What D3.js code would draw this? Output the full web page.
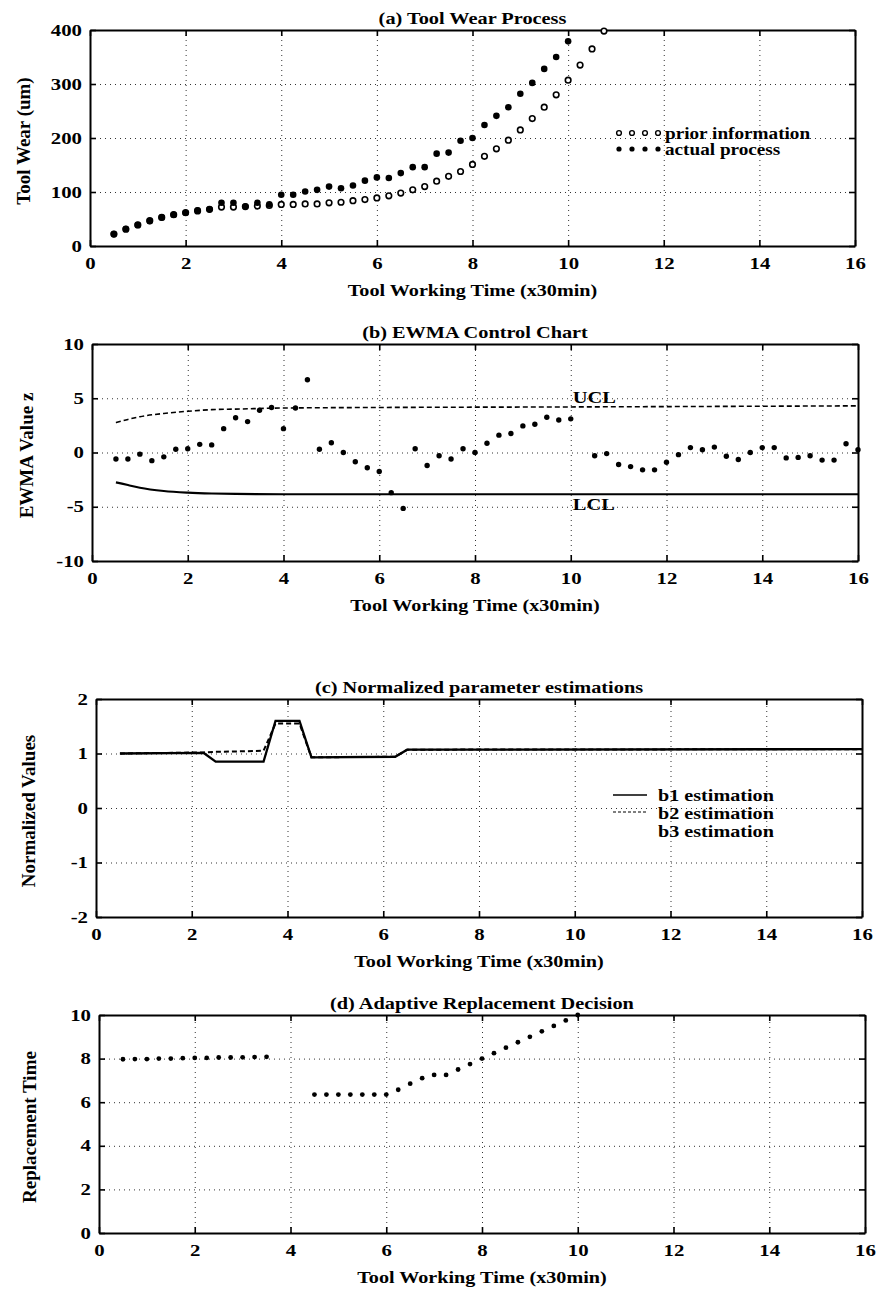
<!DOCTYPE html>
<html>
<head>
<meta charset="utf-8">
<script src="https://cdn.jsdelivr.net/npm/d3@7"></script>
<style>
  body { margin: 0; background: #fff; }
  svg text { font-family: "Liberation Serif", "Times New Roman", serif; font-weight: bold; fill: #000; }
  .tick text { font-size: 16px; }
  .grid line { stroke: #333; stroke-width: 1; stroke-dasharray: 1,4; }
  .grid .domain { display: none; }
  .ax .domain { stroke: #000; stroke-width: 2; }
  .ax .tick line { stroke: #000; stroke-width: 1.6; }
</style>
</head>
<body>
<svg id="fig" width="879" height="1293"></svg>
<script>
// (a) tool wear, um
const wearTime = [0.5, 0.75, 1, 1.25, 1.5, 1.75, 2, 2.25, 2.5, 2.75, 3, 3.25, 3.5, 3.75, 4, 4.25, 4.5, 4.75, 5, 5.25,
  5.5, 5.75, 6, 6.25, 6.5, 6.75, 7, 7.25, 7.5, 7.75, 8, 8.25, 8.5, 8.75, 9, 9.25, 9.5, 9.75, 10, 10.25, 10.5, 10.75];
const priorWear = [22, 31, 39, 47, 53, 58, 62, 65, 68, 72, 72, 73, 74, 75, 77, 77, 78, 78, 80, 81,
  84, 86, 89, 93, 98, 104, 110, 120, 129, 138, 151, 166, 180, 196, 215, 236, 257, 280, 307, 335, 365, 398];
const actualWear = [22, 32, 39, 46, 53, 58, 61, 66, 68, 80, 80, 73, 80, 77, 95, 95, 101, 104, 110, 107,
  112, 121, 127, 126, 135, 146, 146, 171, 173, 195, 200, 224, 241, 257, 282, 302, 328, 350, 379];

// (b) EWMA statistic and limits
const ewmaTime = [0.5, 0.75, 1, 1.25, 1.5, 1.75, 2, 2.25, 2.5, 2.75, 3, 3.25, 3.5, 3.75, 4, 4.25, 4.5, 4.75, 5, 5.25,
  5.5, 5.75, 6, 6.25, 6.5, 6.75, 7, 7.25, 7.5, 7.75, 8, 8.25, 8.5, 8.75, 9, 9.25, 9.5, 9.75, 10,
  10.5, 10.75, 11, 11.25, 11.5, 11.75, 12, 12.25, 12.5, 12.75, 13, 13.25, 13.5, 13.75, 14, 14.25, 14.5, 14.75,
  15, 15.25, 15.5, 15.75, 16];
const ewmaValue = [-0.6, -0.6, -0.15, -0.75, -0.4, 0.3, 0.35, 0.75, 0.7, 2.2, 3.2, 2.85, 3.9, 4.15, 2.2, 4.1, 6.7, 0.3, 0.9, 0.0,
  -0.85, -1.4, -1.75, -3.7, -5.15, 0.35, -1.2, -0.3, -0.6, 0.35, 0.0, 0.85, 1.6, 1.75, 2.45, 2.6, 3.25, 3.0, 3.1,
  -0.3, -0.1, -1.1, -1.3, -1.6, -1.6, -0.9, -0.2, 0.45, 0.25, 0.5, -0.35, -0.65, 0.0, 0.45, 0.45, -0.5, -0.45,
  -0.3, -0.7, -0.7, 0.8, 0.25];
const uclTime = [0.5, 0.75, 1, 1.5, 2, 2.5, 3, 4, 6, 10, 16];
const uclValue = [2.75, 3.05, 3.3, 3.6, 3.8, 3.95, 4.0, 4.1, 4.15, 4.2, 4.3];
const lclTime = [0.5, 0.75, 1, 1.5, 2, 2.5, 3, 4, 16];
const lclValue = [-2.75, -3.0, -3.25, -3.55, -3.7, -3.78, -3.82, -3.85, -3.85];

// (c) normalized parameter estimations
const paramTime = [0.5, 2.25, 2.5, 3.5, 3.75, 4.25, 4.5, 6.25, 6.5, 16];
const b1Value = [1.0, 1.01, 0.85, 0.85, 1.6, 1.6, 0.93, 0.94, 1.07, 1.08];
const b2Value = [1.0, 1.02, 1.03, 1.05, 1.55, 1.55, 0.93, 0.94, 1.07, 1.08];

// (d) replacement time decision
const replTime = [0.5, 0.75, 1, 1.25, 1.5, 1.75, 2, 2.25, 2.5, 2.75, 3, 3.25, 3.5,
  4.5, 4.75, 5, 5.25, 5.5, 5.75, 6, 6.25, 6.5, 6.75, 7, 7.25, 7.5, 7.75, 8, 8.25, 8.5, 8.75, 9, 9.25, 9.5, 9.75, 10];
const replValue = [7.97, 7.98, 7.98, 8.0, 8.0, 8.02, 8.03, 8.03, 8.05, 8.05, 8.06, 8.07, 8.08,
  6.35, 6.35, 6.35, 6.35, 6.35, 6.35, 6.35, 6.57, 6.85, 7.1, 7.25, 7.25, 7.5, 7.75, 8.0, 8.25, 8.5, 8.75, 9.0, 9.25, 9.5, 9.75, 10.0];

const xTicks = [0, 2, 4, 6, 8, 10, 12, 14, 16];
const xLabel = 'Tool Working Time (x30min)';

const svg = d3.select('#fig');
const plain = d => String(d);

// the scanned lettering is wider than Times, so stretch text horizontally
function widen(sel, k) {
  sel.each(function() {
    const t = d3.select(this);
    const x = +t.attr('x') || 0;
    t.attr('transform', `translate(${x},0) scale(${k},1) translate(${-x},0)`);
  });
}

function panel(box, yDomain, yTicks, title, yLabel) {
  const x = d3.scaleLinear().domain([0, 16]).range([box.left, box.right]);
  const y = d3.scaleLinear().domain(yDomain).range([box.bottom, box.top]);
  const w = box.right - box.left, h = box.bottom - box.top;
  const g = svg.append('g');

  g.append('g').attr('class', 'grid')
    .attr('transform', `translate(0,${box.bottom})`)
    .call(d3.axisBottom(x).tickValues(xTicks.slice(1, -1)).tickSize(-h).tickFormat(''));
  g.append('g').attr('class', 'grid')
    .attr('transform', `translate(${box.left},0)`)
    .call(d3.axisLeft(y).tickValues(yTicks.slice(1, -1)).tickSize(-w).tickFormat(''));

  const bottom = g.append('g').attr('class', 'ax')
    .attr('transform', `translate(0,${box.bottom})`)
    .call(d3.axisBottom(x).tickValues(xTicks).tickFormat(plain)
      .tickSizeInner(-6).tickSizeOuter(0).tickPadding(12));
  const left = g.append('g').attr('class', 'ax')
    .attr('transform', `translate(${box.left},0)`)
    .call(d3.axisLeft(y).tickValues(yTicks).tickFormat(plain)
      .tickSizeInner(-6).tickSizeOuter(0).tickPadding(8));
  g.append('g').attr('class', 'ax')
    .attr('transform', `translate(0,${box.top})`)
    .call(d3.axisTop(x).tickValues(xTicks).tickSizeInner(-6).tickSizeOuter(0).tickFormat(''));
  g.append('g').attr('class', 'ax')
    .attr('transform', `translate(${box.right},0)`)
    .call(d3.axisRight(y).tickValues(yTicks).tickSizeInner(-6).tickSizeOuter(0).tickFormat(''));
  g.selectAll('.ax').attr('font-family', null).attr('font-size', null);
  widen(bottom.selectAll('text'), 1.3);
  widen(left.selectAll('text'), 1.3);

  const cx = (box.left + box.right) / 2;
  g.append('text').attr('x', cx).attr('y', box.top - 6)
    .attr('text-anchor', 'middle').style('font-size', '16px').text(title)
    .call(widen, 1.27);
  g.append('text').attr('x', cx).attr('y', box.bottom + 50)
    .attr('text-anchor', 'middle').style('font-size', '16px').text(xLabel)
    .call(widen, 1.26);
  g.append('text')
    .attr('transform', `translate(${box.yLab},${(box.top + box.bottom) / 2 + 3}) rotate(-90)`)
    .attr('text-anchor', 'middle').style('font-size', '19px').text(yLabel);

  return { g, x, y };
}

// (a)
const pa = panel({ left: 90, right: 855, top: 30, bottom: 246, yLab: 30 },
  [0, 400], [0, 100, 200, 300, 400], '(a) Tool Wear Process', 'Tool Wear (um)');
pa.g.append('g').selectAll('circle')
  .data(d3.zip(wearTime, priorWear))
  .join('circle')
  .attr('cx', d => pa.x(d[0])).attr('cy', d => pa.y(d[1])).attr('r', 2.8)
  .attr('fill', '#fff').attr('stroke', '#000').attr('stroke-width', 1.6);
pa.g.append('g').selectAll('circle')
  .data(d3.zip(wearTime, actualWear))
  .join('circle')
  .attr('cx', d => pa.x(d[0])).attr('cy', d => pa.y(d[1])).attr('r', 3.3)
  .attr('fill', '#000');

const legA = pa.g.append('g');
[0, 1, 2, 3].forEach(i => {
  legA.append('circle').attr('cx', 619 + i * 13).attr('cy', 133).attr('r', 2.4)
    .attr('fill', '#fff').attr('stroke', '#000').attr('stroke-width', 1.4);
  legA.append('circle').attr('cx', 619 + i * 13).attr('cy', 149).attr('r', 2.6).attr('fill', '#000');
});
legA.append('text').attr('x', 665).attr('y', 139).style('font-size', '16px').text('prior information').call(widen, 1.2);
legA.append('text').attr('x', 665).attr('y', 155).style('font-size', '16px').text('actual process').call(widen, 1.2);

// (b)
const pb = panel({ left: 92, right: 858, top: 344, bottom: 561, yLab: 33 },
  [-10, 10], [-10, -5, 0, 5, 10], '(b) EWMA Control Chart', 'EWMA Value z');
const lineB = d3.line().curve(d3.curveMonotoneX).x(d => pb.x(d[0])).y(d => pb.y(d[1]));
pb.g.append('path').attr('d', lineB(d3.zip(uclTime, uclValue)))
  .attr('fill', 'none').attr('stroke', '#000').attr('stroke-width', 1.6).attr('stroke-dasharray', '5,3');
pb.g.append('path').attr('d', lineB(d3.zip(lclTime, lclValue)))
  .attr('fill', 'none').attr('stroke', '#000').attr('stroke-width', 2.2);
pb.g.append('g').selectAll('circle')
  .data(d3.zip(ewmaTime, ewmaValue))
  .join('circle')
  .attr('cx', d => pb.x(d[0])).attr('cy', d => pb.y(d[1])).attr('r', 2.7)
  .attr('fill', '#000');
pb.g.append('text').attr('x', pb.x(10) + 2).attr('y', 403).style('font-size', '16px').text('UCL').call(widen, 1.28);
pb.g.append('text').attr('x', pb.x(10) + 2).attr('y', 510).style('font-size', '16px').text('LCL').call(widen, 1.28);

// (c)
const pc = panel({ left: 96, right: 862, top: 699, bottom: 917, yLab: 35 },
  [-2, 2], [-2, -1, 0, 1, 2], '(c) Normalized parameter estimations', 'Normalized Values');
const lineC = d3.line().x(d => pc.x(d[0])).y(d => pc.y(d[1]));
pc.g.append('path').attr('d', lineC(d3.zip(paramTime, b1Value)))
  .attr('fill', 'none').attr('stroke', '#000').attr('stroke-width', 2.3);
pc.g.append('path').attr('d', lineC(d3.zip(paramTime, b2Value)))
  .attr('fill', 'none').attr('stroke', '#000').attr('stroke-width', 2).attr('stroke-dasharray', '5,3');

const legC = pc.g.append('g');
legC.append('line').attr('x1', 613).attr('x2', 647).attr('y1', 795).attr('y2', 795)
  .attr('stroke', '#000').attr('stroke-width', 1.5);
legC.append('line').attr('x1', 613).attr('x2', 647).attr('y1', 812).attr('y2', 812)
  .attr('stroke', '#000').attr('stroke-width', 1.2).attr('stroke-dasharray', '3,2');
['b1 estimation', 'b2 estimation', 'b3 estimation'].forEach((s, i) => {
  legC.append('text').attr('x', 658).attr('y', 801 + i * 18).style('font-size', '16px').text(s).call(widen, 1.26);
});

// (d)
const pd = panel({ left: 99, right: 865, top: 1015, bottom: 1233, yLab: 36 },
  [0, 10], [0, 2, 4, 6, 8, 10], '(d) Adaptive Replacement Decision', 'Replacement Time');
pd.g.append('g').selectAll('circle')
  .data(d3.zip(replTime, replValue))
  .join('circle')
  .attr('cx', d => pd.x(d[0])).attr('cy', d => pd.y(d[1])).attr('r', 2.4)
  .attr('fill', '#000');
</script>
</body>
</html>
